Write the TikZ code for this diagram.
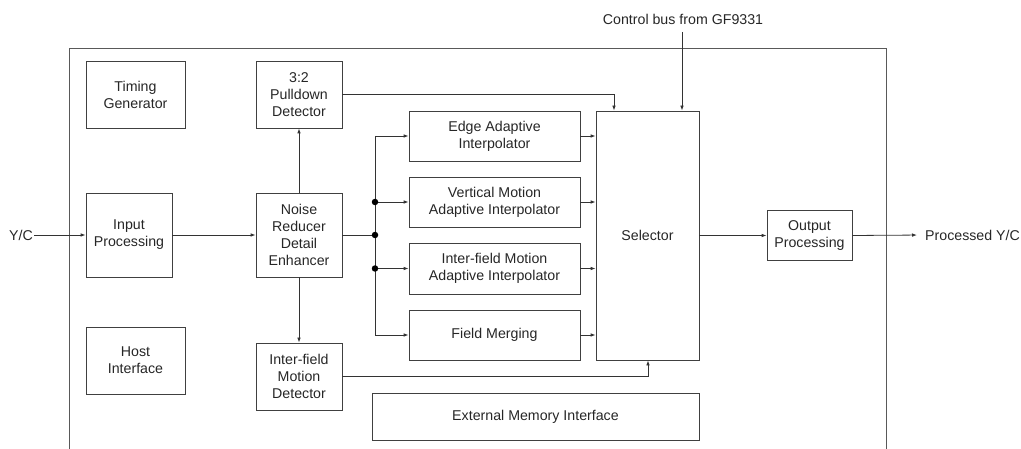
\documentclass[tikz,border=0pt]{standalone}
\usepackage{fontspec}
\setmainfont{Liberation Sans}
\usetikzlibrary{arrows.meta}
\begin{document}
\begin{tikzpicture}[x=1pt,y=-1pt,
  every node/.style={font=\fontsize{14.2}{17}\selectfont, text=black!85},
  blk/.style={draw=black!75, line width=0.8pt, rectangle, align=center, inner sep=0pt},
  ln/.style={draw=black!80, line width=0.8pt},
  arr/.style={ln, -{Latex[length=5pt,width=3.6pt]}},
  dot/.style={circle, fill=black, inner sep=0pt, minimum size=6.5pt}
]
\useasboundingbox (0,0) rectangle (1021,449);
% outer frame (open at bottom)
\draw[ln, draw=black!65] (69,449) -- (69,48) -- (886,48) -- (886,449);

\node[blk, minimum width=99pt, minimum height=67pt] (timing) at (135.5,94.5) {Timing\\Generator};
\node[blk, minimum width=86pt, minimum height=67pt] (pull) at (299,94.5) {3:2\\Pulldown\\Detector};
\node[blk, minimum width=86pt, minimum height=84pt] (input) at (129,235) {Input\\Processing};
\node[blk, minimum width=86pt, minimum height=84pt] (noise) at (299,235) {Noise\\Reducer\\Detail\\Enhancer};
\node[blk, minimum width=99pt, minimum height=67pt] (host) at (135.5,360.5) {Host\\Interface};
\node[blk, minimum width=86pt, minimum height=67pt] (ifmd) at (299,376.5) {Inter-field\\Motion\\Detector};
\node[blk, minimum width=171pt, minimum height=50pt] (edge) at (494.5,136) {Edge Adaptive\\Interpolator};
\node[blk, minimum width=171pt, minimum height=50pt] (vert) at (494.5,202) {Vertical Motion\\Adaptive Interpolator};
\node[blk, minimum width=171pt, minimum height=51pt] (ifmi) at (494.5,268.5) {Inter-field Motion\\Adaptive Interpolator};
\node[blk, minimum width=171pt, minimum height=50pt] (field) at (494.5,335) {Field Merging};
\node[blk, minimum width=103pt, minimum height=249pt] (sel) at (647.5,235.5) {Selector};
\node[blk, minimum width=85pt, minimum height=50pt] (out) at (809.5,235.5) {Output\\Processing};
\node[blk, minimum width=327pt, minimum height=47pt] (ext) at (535.5,416.5) {External Memory Interface};

\node[anchor=east, inner sep=1pt] (yc) at (34,235) {Y/C};
\node[anchor=west, inner sep=1pt] (proc) at (924,235) {Processed Y/C};
\node[inner sep=1pt] (cbt) at (683,19) {Control bus from GF9331};

\coordinate (cb) at (682,32);
\coordinate (pd) at (614,94.5);
\coordinate (bt) at (375,136);
\coordinate (bb) at (375,335);
\coordinate (bm) at (375,235);
\coordinate (md) at (648,376.5);

\draw[arr] (yc.east) -- (input.west);
\draw[arr] (input.east) -- (noise.west);
\draw[arr] (noise.north) -- (pull.south);
\draw[arr] (noise.south) -- (ifmd.north);
\draw[arr] (pull.east) -- (pd) -- (pd |- sel.north);
\draw[arr] (cb) -- (cb |- sel.north);
\draw[ln] (noise.east) -- (bm);
\draw[ln] (bt) -- (bb);
\draw[arr] (bt) -- (edge.west);
\draw[arr] (bt |- vert.west) -- (vert.west);
\draw[arr] (bt |- ifmi.west) -- (ifmi.west);
\draw[arr] (bb) -- (field.west);
\node[dot] (d1) at (bt |- vert.west) {};
\node[dot] (d2) at (bm) {};
\node[dot] (d3) at (bt |- ifmi.west) {};
\draw[arr] (edge.east) -- (edge.east -| sel.west);
\draw[arr] (vert.east) -- (vert.east -| sel.west);
\draw[arr] (ifmi.east) -- (ifmi.east -| sel.west);
\draw[arr] (field.east) -- (field.east -| sel.west);
\draw[arr] (ifmd.east) -- (md) -- (md |- sel.south);
\draw[arr] (sel.east |- out.west) -- (out.west);
\draw[arr, shorten >=7pt] (out.east) -- (proc.west);
\end{tikzpicture}
\end{document}
